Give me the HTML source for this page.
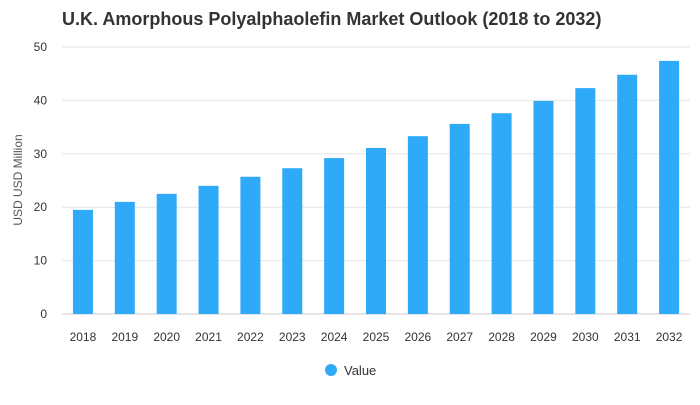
<!DOCTYPE html>
<html><head><meta charset="utf-8"><style>
body{margin:0;background:#fff;font-family:"Liberation Sans",sans-serif}
</style></head><body>
<svg width="700" height="400" viewBox="0 0 700 400" xmlns="http://www.w3.org/2000/svg">
<text x="62" y="25" font-size="18" font-weight="bold" fill="#333">U.K. Amorphous Polyalphaolefin Market Outlook (2018 to 2032)</text>
<text transform="translate(22,180) rotate(-90)" text-anchor="middle" font-size="12" fill="#555">USD USD Million</text>
<g id="grid"></g><g id="bars"></g><g id="xl"></g>
<circle cx="331" cy="370" r="6" fill="#2eaaf9"/>
<text x="344" y="375" font-size="13" fill="#333">Value</text>
</svg>
<script>
const categories=["2018","2019","2020","2021","2022","2023","2024","2025","2026","2027","2028","2029","2030","2031","2032"];
const values=[19.5,21.0,22.5,24.0,25.7,27.3,29.2,31.1,33.3,35.6,37.6,39.9,42.3,44.8,47.4];
const yTicks=[0,10,20,30,40,50];
const NS="http://www.w3.org/2000/svg";
const L=62,R=690,Y0=314,Y1=47,band=(R-L)/categories.length,bw=20;
const y=v=>Y0-(v/50)*(Y0-Y1);
const x=i=>L+band*(i+0.5);
function mk(t,a,p){const e=document.createElementNS(NS,t);for(const k in a)e.setAttribute(k,a[k]);p.appendChild(e);return e;}
const g=document.getElementById('grid');
yTicks.forEach(t=>{
const l=mk('line',{x1:L,x2:R,y1:y(t),y2:y(t),stroke:t===0?'#ccc':'#e6e6e6'},g);


const tx=mk('text',{x:47,y:y(t)+4,'text-anchor':'end','font-size':12,fill:'#333'},g);tx.textContent=t;


});
const b=document.getElementById('bars'),xl=document.getElementById('xl');
values.forEach((v,i)=>{
const r=mk('rect',{x:x(i)-bw/2,y:y(v),width:bw,height:Y0-y(v),fill:'#2eaaf9'},b);


const t=mk('text',{x:x(i),y:341,'text-anchor':'middle','font-size':12,fill:'#333'},xl);t.textContent=categories[i];


});
</script>
</body></html>
